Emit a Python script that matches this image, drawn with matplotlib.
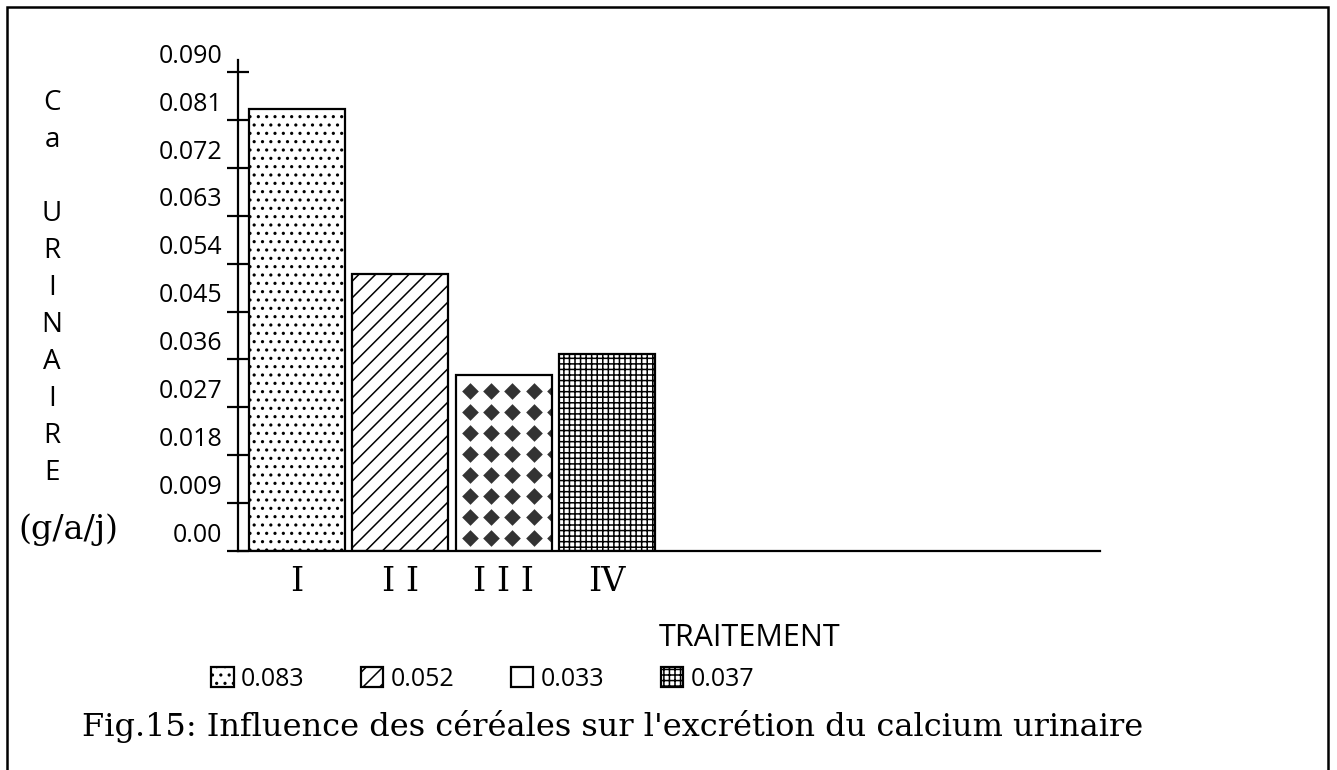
import numpy as np
import matplotlib
matplotlib.use("Agg")
import matplotlib.pyplot as plt
from matplotlib.patches import Rectangle

# data
treatments = ["I", "I I", "I I I", "IV"]
ca_urinaire = [0.083, 0.052, 0.033, 0.037]
yticks = [0.0, 0.009, 0.018, 0.027, 0.036, 0.045, 0.054, 0.063, 0.072, 0.081, 0.090]
ytick_labels = ["0.00", "0.009", "0.018", "0.027", "0.036", "0.045",
                "0.054", "0.063", "0.072", "0.081", "0.090"]
ylabel_letters = ["C", "a", "", "U", "R", "I", "N", "A", "I", "R", "E"]
hatches = ["..", "//", "", "+++"]

SANS = "Open Sans"
SERIF = "DejaVu Serif"
plt.rcParams["hatch.linewidth"] = 1.1

W, H = 1337, 770
fig = plt.figure(figsize=(W / 100, H / 100), dpi=100)
ax = fig.add_axes([238 / W, 1 - 551 / H, (1100 - 238) / W, (551 - 60) / H])

x = np.arange(len(treatments))
bars = ax.bar(x, ca_urinaire, width=0.93, facecolor="none", edgecolor="black",
              linewidth=1.6, zorder=2)
for b, h in zip(bars, hatches):
    b.set_hatch(h)

# diamond pattern inside bar III
b3 = bars[2]
xs = np.arange(b3.get_x() + 0.136, b3.get_x() + b3.get_width() + 0.1, 0.206)
ys = np.arange(0.00244, b3.get_height(), 0.00396)
gx, gy = np.meshgrid(xs, ys)
dots = ax.scatter(gx.ravel(), gy.ravel(), marker="D", s=72, color="#333333",
                  linewidths=0, zorder=1.5)
dots.set_clip_path(b3)

ax.set_xlim(-0.571, 7.77)
ax.set_ylim(0, 0.0923)
ax.spines["top"].set_visible(False)
ax.spines["right"].set_visible(False)
ax.spines["left"].set_linewidth(1.6)
ax.spines["bottom"].set_linewidth(1.6)

ax.set_xticks(x)
ax.set_xticklabels(treatments, family=SERIF, fontsize=24)
ax.tick_params(axis="x", length=0, pad=11)

ax.set_yticks(yticks)
ax.set_yticklabels([])
ax.tick_params(axis="y", direction="inout", length=16, width=1.6)
for v, lab in zip(yticks, ytick_labels):
    ax.annotate(lab, xy=(0, v), xycoords=("axes fraction", "data"),
                xytext=(-11.5, 11.5), textcoords="offset points",
                ha="right", va="center", family=SANS, fontsize=18)

# stacked y label
for i, ch in enumerate(ylabel_letters):
    fig.text(52 / W, 1 - (103 + 37 * i) / H, ch, ha="center", va="center",
             family=SANS, fontsize=20)
fig.text(68 / W, 1 - 530 / H, "(g/a/j)", ha="center", va="center",
         family=SERIF, fontsize=24)

fig.text(750 / W, 1 - 638 / H, "TRAITEMENT", ha="center", va="center",
         family=SANS, fontsize=22)

fig.legend(bars, [f"{v:.3f}" for v in ca_urinaire], loc="center left",
           bbox_to_anchor=(211 / W, 1 - 679 / H), ncol=4, frameon=False,
           handlelength=0.9, handleheight=0.9, handletextpad=0.3,
           columnspacing=2.25, borderaxespad=0, borderpad=0,
           prop={"family": SANS, "size": 18})

fig.text(82 / W, 1 - 736 / H,
         "Fig.15: Influence des céréales sur l'excrétion du calcium urinaire",
         ha="left", va="baseline", family=SERIF, fontsize=23)

# outer frame
fig.patches.append(Rectangle((7 / W, -0.05), (1328 - 7) / W, 1.05 - 7 / H,
                             transform=fig.transFigure, fill=False,
                             edgecolor="black", linewidth=1.8))

fig.savefig("out.png", dpi=100)
